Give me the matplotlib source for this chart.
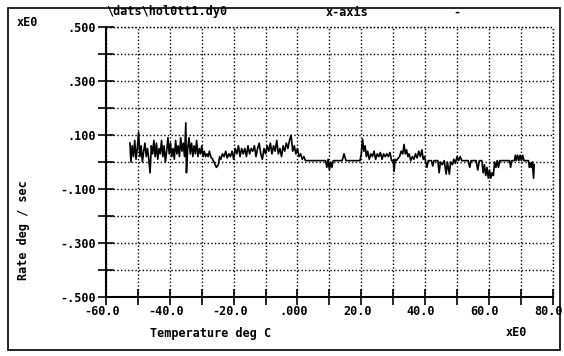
import matplotlib
matplotlib.use("Agg")
import matplotlib.pyplot as plt
import matplotlib.transforms as mtransforms
import numpy as np

temp = [-52.5, -52.2, -51.8, -51.4, -51.0, -50.6, -50.2, -49.8, -49.4, -49.0,
        -48.6, -48.2, -47.8, -47.4, -47.0, -46.6, -46.2, -45.8, -45.4, -45.0,
        -44.6, -44.2, -43.8, -43.4, -43.0, -42.6, -42.2, -41.8, -41.4, -41.0,
        -40.6, -40.2, -39.8, -39.4, -39.0, -38.6, -38.2, -37.8, -37.4, -37.0,
        -36.6, -36.2, -35.8, -35.4, -35.0, -34.8, -34.4, -34.0, -33.6, -33.2,
        -32.8, -32.4, -32.0, -31.6, -31.2, -30.8, -30.4, -30.0, -29.6, -29.2,
        -28.8, -28.4, -28.0, -27.6, -27.2, -26.6, -26.0, -25.4, -24.8, -24.4,
        -24.0, -23.5, -23.0, -22.5, -22.0, -21.5, -21.0, -20.5, -20.0, -19.5,
        -19.0, -18.5, -18.0, -17.5, -17.0, -16.5, -16.0, -15.5, -15.0, -14.5,
        -14.0, -13.5, -13.0, -12.5, -12.0, -11.5, -11.0, -10.5, -10.0, -9.5,
        -9.0, -8.5, -8.0, -7.5, -7.0, -6.5, -6.0, -5.5, -5.0, -4.5,
        -4.0, -3.5, -3.0, -2.5, -2.0, -1.5, -1.0, -0.5, 0.0, 0.5,
        1.0, 1.5, 2.0, 2.5, 8.8, 9.2, 9.6, 10.0, 10.4, 10.8,
        11.2, 14.0, 14.6, 15.2, 19.6, 20.0, 20.4, 20.8, 21.2, 21.6,
        22.0, 22.5, 23.0, 23.5, 24.0, 24.5, 25.0, 25.5, 26.0, 26.5,
        27.0, 27.5, 28.0, 28.5, 29.0, 29.5, 30.0, 30.3, 30.6, 31.0,
        32.0, 32.5, 33.0, 33.4, 33.8, 34.2, 34.6, 35.0, 35.5, 36.0,
        36.5, 37.0, 37.5, 38.0, 38.5, 39.0, 39.4, 39.8, 40.2, 40.6,
        41.0, 42.0, 42.4, 42.8, 44.0, 44.4, 44.8, 45.4, 46.0, 46.6,
        47.0, 47.6, 48.0, 48.6, 49.0, 49.5, 50.0, 50.5, 51.0, 51.5,
        52.5, 53.5, 54.0, 54.4, 56.0, 56.5, 57.0, 57.8, 58.2, 58.6,
        59.0, 59.4, 59.8, 60.2, 60.6, 61.0, 61.4, 61.8, 62.2, 62.6,
        63.0, 63.4, 66.5, 66.8, 67.2, 68.0, 68.3, 68.6, 69.0, 69.4,
        69.8, 70.2, 70.6, 71.0, 72.4, 72.7, 73.0, 73.3, 73.6, 74.0,
        74.2]

rate = [0.07, 0.00, 0.06, 0.02, 0.08, 0.01, 0.05, 0.11, 0.02, 0.06,
        0.00, 0.04, 0.07, 0.02, 0.05, 0.01, -0.04, 0.06, 0.03, 0.08,
        0.02, 0.07, 0.01, 0.05, 0.03, 0.08, 0.02, 0.06, 0.00, 0.04,
        0.09, 0.03, 0.07, 0.02, 0.05, 0.01, 0.08, 0.03, 0.06, 0.02,
        0.09, 0.04, 0.07, 0.02, 0.145, -0.04, 0.05, 0.09, 0.03, 0.07,
        0.02, 0.06, 0.03, 0.08, 0.02, 0.05, 0.03, 0.06, 0.02, 0.04,
        0.02, 0.03, 0.02, 0.04, 0.02, 0.01, -0.005, -0.02, -0.01, 0.02,
        0.01, 0.03, 0.02, 0.04, 0.015, 0.03, 0.02, 0.04, 0.01, 0.05,
        0.03, 0.06, 0.02, 0.05, 0.03, 0.05, 0.02, 0.06, 0.03, 0.05,
        0.04, 0.06, 0.02, 0.05, 0.07, 0.03, 0.01, 0.05, 0.03, 0.06,
        0.04, 0.07, 0.03, 0.06, 0.04, 0.08, 0.03, 0.05, 0.02, 0.06,
        0.04, 0.07, 0.05, 0.08, 0.10, 0.04, 0.06, 0.03, 0.05, 0.02,
        0.03, 0.01, 0.02, 0.005, 0.005, -0.02, 0.01, -0.03, 0.00, -0.02,
        0.005, 0.005, 0.03, 0.005, 0.005, 0.03, 0.085, 0.04, 0.06, 0.02,
        0.04, 0.01, 0.03, 0.02, 0.04, 0.01, 0.03, 0.02, 0.035, 0.01,
        0.03, 0.02, 0.03, 0.02, 0.035, 0.005, 0.005, -0.035, 0.01, 0.005,
        0.02, 0.04, 0.03, 0.065, 0.03, 0.045, 0.02, 0.03, 0.005, 0.02,
        0.01, 0.03, 0.015, 0.04, 0.02, 0.045, 0.01, 0.02, 0.0, -0.02,
        0.005, 0.005, -0.015, 0.005, 0.005, -0.04, 0.0, -0.01, 0.005, -0.045,
        0.0, -0.045, 0.0, -0.01, 0.01, -0.005, 0.02, 0.005, 0.02, 0.005,
        0.005, 0.005, -0.02, 0.005, 0.005, -0.03, 0.005, 0.005, -0.04, -0.01,
        -0.05, -0.02, -0.06, -0.03, -0.06, -0.04, -0.05, 0.0, -0.02, 0.005,
        -0.02, 0.005, 0.005, -0.02, 0.005, 0.005, 0.025, 0.005, 0.025, 0.005,
        0.025, 0.005, 0.025, 0.005, 0.005, -0.02, -0.005, -0.02, 0.0, -0.06,
        -0.01]

x_ticks = [-60, -40, -20, 0, 20, 40, 60, 80]
x_labels = ["-60.0", "-40.0", "-20.0", ".000", "20.0", "40.0", "60.0", "80.0"]
y_ticks = [-0.5, -0.3, -0.1, 0.1, 0.3, 0.5]
y_labels = ["-.500", "-.300", "-.100", ".100", ".300", ".500"]

font = {"family": "DejaVu Sans Mono", "weight": "bold", "size": 8.5}

fig = plt.figure(figsize=(5.64, 3.56), dpi=100)
ax = fig.add_axes([0.188, 0.166, 0.792, 0.758])

ax.plot(temp, rate, color="black", lw=1.2)

ax.set_xlim(-60, 80)
ax.set_ylim(-0.5, 0.5)
ax.set_xticks(x_ticks)
ax.set_xticklabels(x_labels, **font)
ax.set_xticks(np.arange(-50, 80, 20), minor=True)
ax.set_yticks(y_ticks)
ax.set_yticklabels(y_labels, **font)
ax.set_yticks(np.arange(-0.4, 0.41, 0.2), minor=True)
ax.tick_params(which="both", direction="inout", length=12, width=1.2, color="black")
ax.tick_params(axis="x", pad=0)
ax.tick_params(axis="y", pad=1)

# x labels sit a little left of their ticks, as on the plotter output
shift = mtransforms.ScaledTranslation(-4 / 100, 0, fig.dpi_scale_trans)
for lab in ax.get_xticklabels():
    lab.set_transform(lab.get_transform() + shift)

ax.grid(which="both", color="black", linestyle=(0, (1, 1.6)), linewidth=1.0)
ax.spines["top"].set_visible(False)
ax.spines["right"].set_visible(False)
ax.spines["left"].set_linewidth(1.5)
ax.spines["bottom"].set_linewidth(1.5)
ax.plot([-60, 80], [0.5, 0.5], color="black", lw=1.0, ls=(0, (1, 1.6)), clip_on=False)
ax.plot([80, 80], [-0.5, 0.5], color="black", lw=1.0, ls=(0, (1, 1.6)), clip_on=False)

# text around the plot
fig.text(167 / 564, 1 - 12 / 356, "\\dats\\hol0tt1.dy0", ha="center", va="center", **font)
fig.text(347 / 564, 1 - 12 / 356, "x-axis", ha="center", va="center", **font)
fig.text(457 / 564, 1 - 12 / 356, "-", ha="center", va="center", **font)
fig.text(27 / 564, 1 - 22 / 356, "xE0", ha="center", va="center", **font)
fig.text(516 / 564, 1 - 333 / 356, "xE0", ha="center", va="center", **font)
fig.text(211 / 564, 1 - 334 / 356, "Temperature deg C", ha="center", va="center", **font)
fig.text(24 / 564, 1 - 230 / 356, "Rate deg / sec", ha="center", va="center",
         rotation=90, **font)

# scanned page frame
frame = plt.Rectangle((8 / 564, 1 - 350 / 356), 552 / 564, 342 / 356,
                      transform=fig.transFigure, fill=False, color="black", lw=1.2)
fig.add_artist(frame)

fig.savefig("out.png", dpi=100)
